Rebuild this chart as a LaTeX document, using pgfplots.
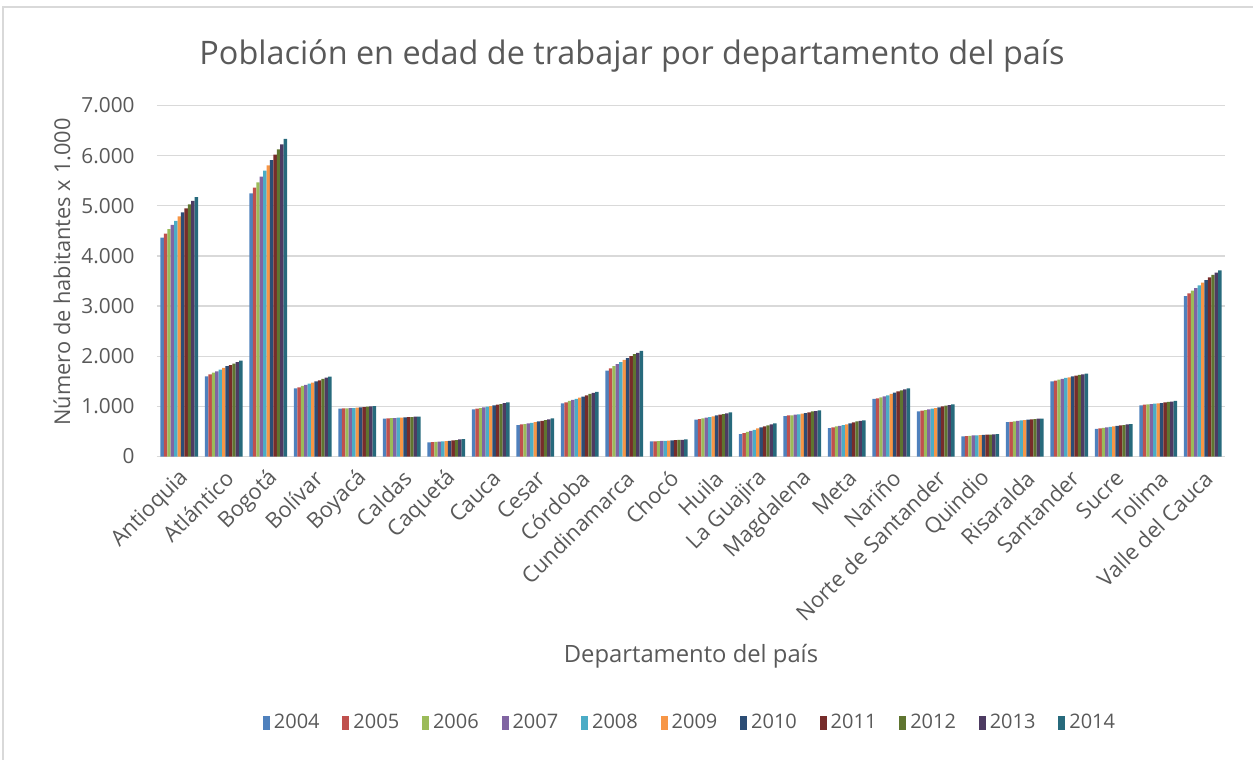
\documentclass[border=0pt]{standalone}
\usepackage{pgfplots}
\usepackage{pgfplotstable}
\pgfplotsset{compat=1.18}
\usepackage{fontspec}
\setmainfont{Open Sans}
\definecolor{txt}{HTML}{595959}
\definecolor{grd}{HTML}{D9D9D9}
\definecolor{c1}{HTML}{4F81BD}
\definecolor{c2}{HTML}{C0504D}
\definecolor{c3}{HTML}{9BBB59}
\definecolor{c4}{HTML}{8064A2}
\definecolor{c5}{HTML}{4BACC6}
\definecolor{c6}{HTML}{F79646}
\definecolor{c7}{HTML}{2C4D75}
\definecolor{c8}{HTML}{772C2A}
\definecolor{c9}{HTML}{5F7530}
\definecolor{c10}{HTML}{4D3B62}
\definecolor{c11}{HTML}{276A7C}
\pgfplotstableread{
i a2004 a2005 a2006 a2007 a2008 a2009 a2010 a2011 a2012 a2013 a2014
0 4367 4447 4533 4620 4700 4787 4867 4947 5027 5100 5173
1 1600 1640 1673 1700 1733 1767 1800 1820 1853 1880 1913
2 5247 5360 5467 5580 5700 5807 5913 6020 6127 6227 6333
3 1360 1380 1407 1427 1453 1473 1500 1520 1547 1573 1593
4 953 960 960 963 967 973 980 987 993 1000 1007
5 753 760 767 767 773 773 780 787 787 793 793
6 280 287 293 295 300 307 313 320 327 340 347
7 940 953 967 980 993 1007 1020 1033 1047 1067 1080
8 627 640 647 660 673 687 700 713 727 740 760
9 1060 1080 1107 1127 1147 1173 1193 1220 1247 1267 1287
10 1713 1760 1800 1840 1880 1927 1960 2000 2040 2067 2107
11 300 303 307 310 313 316 320 327 330 333 340
12 733 747 760 773 787 800 820 833 847 860 880
13 447 467 493 513 533 560 580 600 620 640 660
14 807 820 820 833 840 853 867 880 900 907 920
15 567 580 600 613 627 640 660 680 700 713 720
16 1147 1160 1180 1200 1220 1247 1273 1300 1320 1340 1360
17 900 913 927 940 953 967 980 1000 1013 1027 1040
18 400 407 413 420 423 427 433 435 437 440 447
19 687 693 700 713 720 727 733 740 747 753 757
20 1500 1513 1533 1547 1567 1580 1600 1613 1627 1640 1653
21 553 560 573 580 593 600 613 620 627 640 647
22 1020 1033 1040 1047 1053 1060 1067 1080 1087 1093 1107
23 3200 3253 3307 3360 3413 3467 3520 3573 3620 3667 3713
}\data
\begin{document}
\begin{tikzpicture}
\useasboundingbox (-78.5pt,-151.75pt) rectangle (548pt,228.25pt);
\draw[grd, line width=0.6pt] (-77pt,-151.75pt) -- (-77pt,224.75pt) -- (548pt,224.75pt);
\begin{axis}[
  at={(0pt,0pt)}, anchor=south west,
  scale only axis, width=534pt, height=175.5pt,
  ybar=0pt, bar width=0.077,
  xmin=-0.5, xmax=23.5, ymin=0, ymax=7000,
  xtick={0,...,23},
  xticklabels={Antioquia,Atlántico,Bogotá,Bolívar,Boyacá,Caldas,Caquetá,Cauca,Cesar,Córdoba,Cundinamarca,Chocó,Huila,La Guajira,Magdalena,Meta,Nariño,Norte de Santander,Quindio,Risaralda,Santander,Sucre,Tolima,Valle del Cauca},
  ytick={0,1000,...,7000},
  yticklabels={0,1.000,2.000,3.000,4.000,5.000,6.000,7.000},
  major tick length=0pt,
  axis x line=bottom, axis y line=left,
  x axis line style={grd, line width=0.6pt, -},
  y axis line style={draw=none},
  ymajorgrids, grid style={grd, line width=0.6pt},
  tick label style={text=txt},
  yticklabel style={inner sep=0pt, xshift=-11pt, font=\fontsize{10.4}{12}\selectfont},
  xticklabel style={inner sep=0pt, xshift=3pt, yshift=-9pt, rotate=45, anchor=east, font=\fontsize{10.9}{12}\selectfont},
  /pgf/number format/assume math mode=true,
  ylabel={Número de habitantes x 1.000},
  ylabel style={at={(axis description cs:-0.089,0.526)}, anchor=center, font=\fontsize{10.9}{12}\selectfont, text=txt},
  xlabel={Departamento del país},
  xlabel style={at={(axis description cs:0.5,-0.568)}, anchor=center, font=\fontsize{11.9}{14}\selectfont, text=txt},
  legend columns=11,
  legend style={at={(axis description cs:0.5,-0.759)}, anchor=center, draw=none, fill=none,
    font=\fontsize{10}{12}\selectfont, text=txt,
    /tikz/every even column/.append style={column sep=9.4pt}},
  legend image code/.code={\fill[#1] (0pt,-3.5pt) rectangle (3.5pt,3.5pt);},
  every axis plot/.append style={draw=none},
]
\addplot[fill=c1] table[x=i,y=a2004]{\data};
\addplot[fill=c2] table[x=i,y=a2005]{\data};
\addplot[fill=c3] table[x=i,y=a2006]{\data};
\addplot[fill=c4] table[x=i,y=a2007]{\data};
\addplot[fill=c5] table[x=i,y=a2008]{\data};
\addplot[fill=c6] table[x=i,y=a2009]{\data};
\addplot[fill=c7] table[x=i,y=a2010]{\data};
\addplot[fill=c8] table[x=i,y=a2011]{\data};
\addplot[fill=c9] table[x=i,y=a2012]{\data};
\addplot[fill=c10] table[x=i,y=a2013]{\data};
\addplot[fill=c11] table[x=i,y=a2014]{\data};
\legend{2004,2005,2006,2007,2008,2009,2010,2011,2012,2013,2014}
\end{axis}
\node[text=txt, font=\fontsize{16.2}{19}\selectfont] at (237.5pt,200.25pt) {Población en edad de trabajar por departamento del país};
\end{tikzpicture}
\end{document}
